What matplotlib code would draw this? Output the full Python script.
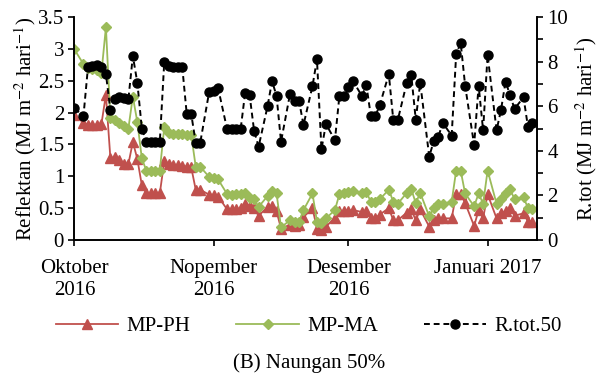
import numpy as np
import pandas as pd
import matplotlib
matplotlib.use('Agg')
import matplotlib.pyplot as plt
from matplotlib.ticker import MultipleLocator, FuncFormatter
from matplotlib.lines import Line2D

plt.rcParams['font.family'] = ['Liberation Serif', 'DejaVu Serif']
plt.rcParams['mathtext.fontset'] = 'stix'
plt.rcParams['font.size'] = 15

#### data (hari ke- sejak 1 Oktober 2016)
hari = [0, 2, 3, 4, 5, 6, 7, 8, 9, 10,
        11, 12, 13, 14, 15, 16, 17, 18, 19, 20,
        21, 22, 23, 24, 25, 26, 27, 28, 30, 31,
        32, 34, 35, 36, 37, 38, 39, 40, 41, 43,
        44, 45, 46, 48, 49, 50, 51, 53, 54, 55,
        56, 58, 59, 60, 61, 62, 64, 65, 66, 67,
        68, 70, 71, 72, 74, 75, 76, 77, 79, 80,
        81, 82, 84, 85, 86, 87, 89, 90, 91, 92,
        94, 95, 96, 97, 98, 100, 101, 102]

mp_ph = [1.96, 1.84, 1.81, 1.81, 1.81, 1.82, 2.28, 1.28, 1.30, 1.25,
         1.20, 1.19, 1.54, 1.27, 0.86, 0.73, 0.73, 0.73, 0.73, 1.24,
         1.19, 1.18, 1.17, 1.16, 1.15, 1.14, 0.79, 0.79, 0.71, 0.71,
         0.68, 0.48, 0.48, 0.48, 0.50, 0.56, 0.54, 0.50, 0.38, 0.52,
         0.54, 0.45, 0.18, 0.24, 0.22, 0.23, 0.36, 0.50, 0.18, 0.16,
         0.21, 0.35, 0.45, 0.46, 0.46, 0.47, 0.44, 0.45, 0.34, 0.34,
         0.40, 0.50, 0.31, 0.31, 0.43, 0.48, 0.31, 0.48, 0.21, 0.31,
         0.34, 0.34, 0.34, 0.72, 0.72, 0.58, 0.22, 0.47, 0.34, 0.72,
         0.34, 0.42, 0.45, 0.51, 0.38, 0.42, 0.29, 0.29]

mp_ma = [2.99, 2.76, 2.70, 2.68, 2.67, 2.62, 3.34, 1.91, 1.88, 1.83,
         1.79, 1.75, 2.25, 1.85, 1.28, 1.09, 1.09, 1.09, 1.09, 1.77,
         1.68, 1.67, 1.66, 1.66, 1.65, 1.65, 1.15, 1.15, 0.99, 0.97,
         0.95, 0.72, 0.70, 0.72, 0.72, 0.74, 0.66, 0.64, 0.52, 0.69,
         0.77, 0.73, 0.20, 0.31, 0.29, 0.29, 0.47, 0.73, 0.29, 0.27,
         0.34, 0.47, 0.72, 0.74, 0.76, 0.77, 0.73, 0.75, 0.60, 0.60,
         0.64, 0.79, 0.60, 0.57, 0.74, 0.80, 0.58, 0.74, 0.37, 0.50,
         0.57, 0.57, 0.60, 1.09, 1.09, 0.73, 0.53, 0.73, 0.57, 1.09,
         0.57, 0.64, 0.74, 0.80, 0.64, 0.67, 0.50, 0.48]

r_tot = [5.90, 5.56, 7.74, 7.80, 7.85, 7.74, 7.44, 5.83, 6.31, 6.40,
         6.35, 6.31, 8.25, 7.05, 5.00, 4.40, 4.40, 4.40, 4.40, 8.00,
         7.80, 7.76, 7.76, 7.76, 5.65, 5.65, 4.36, 4.36, 6.65, 6.70,
         6.80, 4.96, 4.96, 4.96, 4.96, 6.60, 6.50, 4.90, 4.18, 6.00,
         7.13, 6.46, 4.41, 6.55, 6.25, 6.25, 5.16, 6.90, 8.10, 4.07,
         5.20, 4.48, 6.46, 6.46, 6.88, 7.14, 6.46, 6.95, 5.56, 5.56,
         6.05, 7.44, 5.38, 5.38, 7.05, 7.40, 5.40, 7.05, 3.74, 4.43,
         4.60, 5.26, 4.68, 8.32, 8.85, 6.92, 4.26, 6.92, 4.92, 8.30,
         4.92, 5.85, 7.10, 6.50, 5.88, 6.40, 5.06, 5.26]

awal = pd.Timestamp('2016-10-01')
bulan = ['2016-10-01', '2016-11-01', '2016-12-01', '2017-01-01']
bulan_label = ['Oktober\n2016', 'Nopember\n2016', 'Desember\n2016', 'Januari 2017']
bulan_pos = [(pd.Timestamp(b) - awal).days for b in bulan]

merah = '#C0504D'
hijau = '#9BBB59'

gaya_ph = dict(color=merah, marker='^', markersize=6.5, lw=1.3)
gaya_ma = dict(color=hijau, marker='D', markersize=5, lw=1.3)
gaya_tot = dict(color='black', marker='o', markersize=6.5, lw=1.4, ls=(0, (3, 2)))

fig = plt.figure(figsize=(6.08, 3.82), dpi=100)
ax = fig.add_axes([0.1225, 0.3717, 0.7607, 0.5838])
ax2 = ax.twinx()

ax.plot(hari, mp_ph, label='MP-PH', **gaya_ph)
ax.plot(hari, mp_ma, label='MP-MA', **gaya_ma)
ax2.plot(hari, r_tot, label='R.tot.50', **gaya_tot)

ax.set_xlim(0, 103)
ax.set_ylim(0, 3.5)
ax2.set_ylim(0, 10)

ax.set_xticks(bulan_pos)
ax.set_xticklabels(bulan_label)
ax.yaxis.set_major_locator(MultipleLocator(0.5))
ax.yaxis.set_major_formatter(FuncFormatter(lambda v, p: '{:g}'.format(v)))
ax2.yaxis.set_major_locator(MultipleLocator(2))
ax2.yaxis.set_minor_locator(MultipleLocator(1))

for a in (ax, ax2):
    for s in a.spines.values():
        s.set_linewidth(1.2)
    a.spines['top'].set_visible(False)
ax.tick_params(axis='both', which='both', direction='out', length=4, width=1.2)
ax.tick_params(axis='x', pad=10)
ax2.tick_params(axis='y', which='both', direction='out', length=4, width=1.2)

ax.set_ylabel('Reflektan (MJ m$^{-2}$ hari$^{-1}$)', labelpad=0)
ax2.set_ylabel('R.tot (MJ m$^{-2}$ hari$^{-1}$)', labelpad=4)

handles = [Line2D([], [], **gaya_ph), Line2D([], [], **gaya_ma), Line2D([], [], **gaya_tot)]
fig.legend(handles, ['MP-PH', 'MP-MA', 'R.tot.50'], loc='center',
           bbox_to_anchor=(0.508, 0.145), ncol=3, frameon=False,
           handlelength=3.0, columnspacing=2.2, handletextpad=0.4)

fig.text(0.508, 0.05, '(B) Naungan 50%', ha='center', va='center')

fig.savefig('out.png', dpi=100)
